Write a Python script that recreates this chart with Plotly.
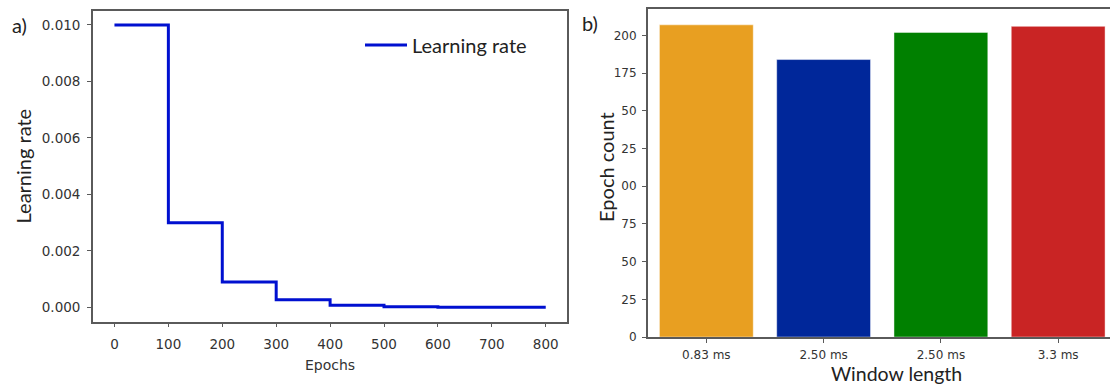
import plotly.graph_objects as go

# Learning-rate schedule: step boundaries (epochs) and the rate held from each boundary
epoch_steps = [0, 100, 200, 300, 400, 500, 600, 700, 800]
learning_rates = [0.01, 0.003, 0.0009, 0.00027, 0.000081, 0.0000243, 0.00000729, 0.000002187, 0.000002187]

# Epoch count per window length
window_labels = ["0.83 ms", "2.50 ms", "2.50 ms", "3.3 ms"]
epoch_counts = [207, 184, 202, 206]
bar_colors = ["#E89F21", "#00279A", "#008000", "#C92424"]

lr_ticks = [0.0, 0.002, 0.004, 0.006, 0.008, 0.010]
epoch_ticks = [0, 100, 200, 300, 400, 500, 600, 700, 800]
count_ticks = [0, 25, 50, 75, 100, 125, 150, 175, 200]
count_tick_text = ["0", "25", "50", "75", "00", "25", "50", "175", "200"]

W, H = 1110, 385
TITLE_FONT = "Lato, 'Open Sans', sans-serif"
TICK_FONT = "'DejaVu Sans', sans-serif"
AXIS_GREY = "#5a5a5a"

fig = go.Figure()

fig.add_trace(go.Scatter(
    x=epoch_steps, y=learning_rates, mode="lines", line_shape="hv",
    line=dict(color="#0010D0", width=3), name="Learning rate",
    xaxis="x", yaxis="y",
))

fig.add_trace(go.Bar(
    x=list(range(len(epoch_counts))), y=epoch_counts, width=0.8,
    marker=dict(color=bar_colors, line=dict(color="rgba(255,255,255,0.45)", width=1)),
    showlegend=False, xaxis="x2", yaxis="y2",
))

axis_common = dict(
    showline=True, linecolor=AXIS_GREY, linewidth=1.5,
    ticks="outside", ticklen=4, tickwidth=1.2, tickcolor=AXIS_GREY,
    showgrid=False, zeroline=False,
    tickfont=dict(family=TICK_FONT, size=13.5, color="#333333"),
)

fig.update_layout(
    width=W, height=H, autosize=False,
    margin=dict(l=0, r=0, t=0, b=0),
    paper_bgcolor="white", plot_bgcolor="white",
    xaxis=dict(
        axis_common, domain=[92.9 / W, 567.3 / W], anchor="y",
        range=[-40, 840], tickvals=epoch_ticks, mirror=True, ticklabelstandoff=6,
        title=dict(text="Epochs", font=dict(family=TICK_FONT, size=14, color="#333333"), standoff=9),
    ),
    yaxis=dict(
        axis_common, domain=[1 - 327.5 / H, 1 - 11 / H], anchor="x",
        range=[-0.0005, 0.0105], tickvals=lr_ticks, tickformat=".3f", mirror=True,
        ticklabelstandoff=4,
        title=dict(text="Learning rate", font=dict(family=TITLE_FONT, size=20, color="#222222"), standoff=5),
    ),
    xaxis2=dict(
        axis_common, domain=[647.7 / W, 1.0], anchor="y2",
        range=[-0.5, 3.442], tickvals=list(range(len(window_labels))), ticktext=window_labels,
        mirror=True, ticklabelstandoff=2, tickfont=dict(family=TICK_FONT, size=12, color="#333333"),
    ),
    yaxis2=dict(
        axis_common, domain=[1 - 343.3 / H, 1 - 9.5 / H], anchor="x2",
        range=[0, 217.3], tickvals=count_ticks, ticktext=count_tick_text, ticklabelstandoff=3,
        tickfont=dict(family=TICK_FONT, size=12, color="#333333"),
    ),
    legend=dict(
        x=360 / W, y=1 - 26 / H, xanchor="left", yanchor="top", itemwidth=42,
        bgcolor="rgba(0,0,0,0)", font=dict(family=TITLE_FONT, size=20, color="#222222"),
    ),
    showlegend=True,
)

# Panel letters and the titles set in the larger sans face
fig.add_annotation(text="a)", x=10 / W, y=1 - 25 / H, xref="paper", yref="paper",
                   xanchor="left", yanchor="middle", showarrow=False,
                   font=dict(family=TITLE_FONT, size=20, color="#222222"))
fig.add_annotation(text="b)", x=580 / W, y=1 - 23 / H, xref="paper", yref="paper",
                   xanchor="left", yanchor="middle", showarrow=False,
                   font=dict(family=TITLE_FONT, size=20, color="#222222"))
fig.add_annotation(text="Epoch count", x=606 / W, y=1 - 170 / H, xref="paper", yref="paper",
                   xanchor="center", yanchor="middle", textangle=-90, showarrow=False,
                   font=dict(family=TITLE_FONT, size=20, color="#222222"))
fig.add_annotation(text="Window length", x=896 / W, y=1 - 380 / H, xref="paper", yref="paper",
                   xanchor="center", yanchor="middle", showarrow=False,
                   font=dict(family=TITLE_FONT, size=19.5, color="#222222"))

fig.write_html("out.html")
